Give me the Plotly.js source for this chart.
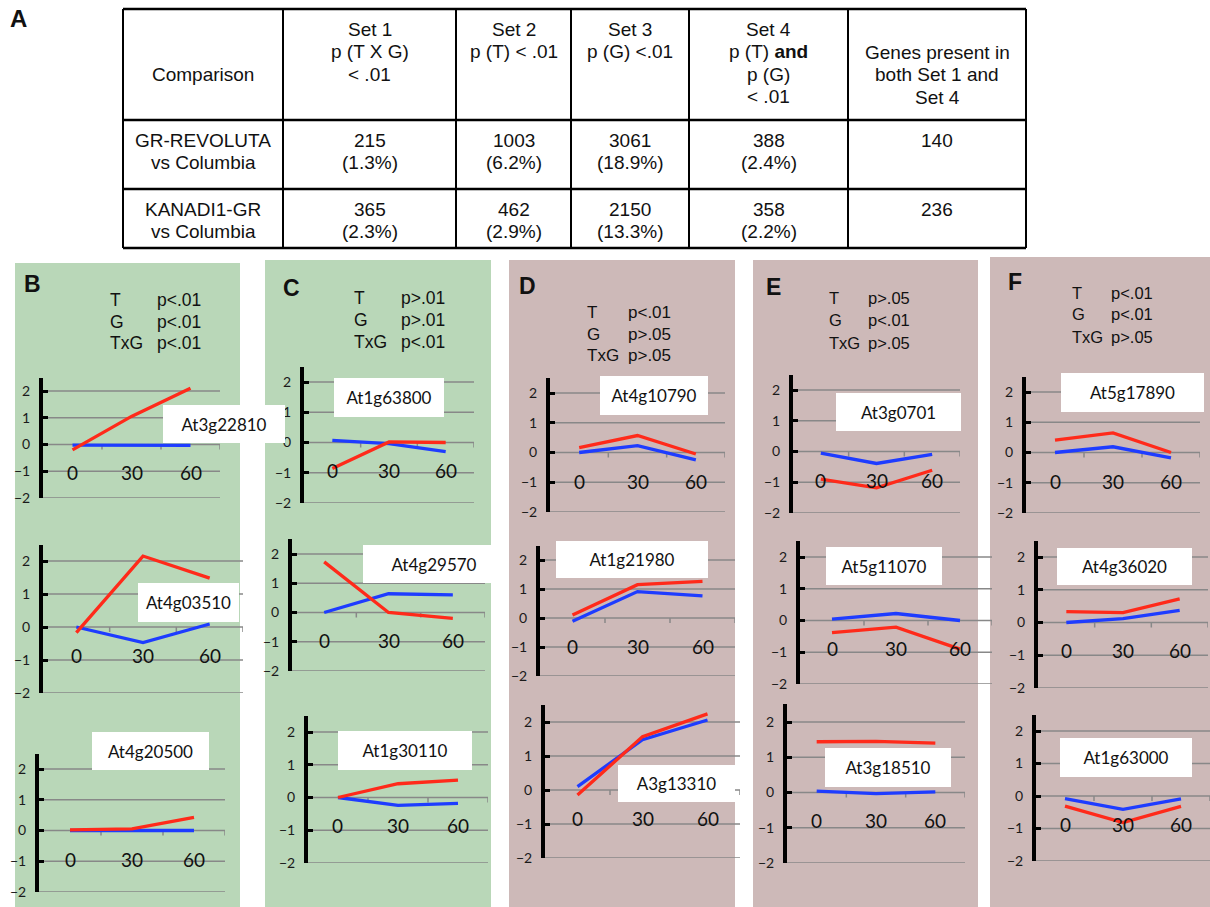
<!DOCTYPE html>
<html><head><meta charset="utf-8">
<script src="https://cdn.plot.ly/plotly-3.0.1.min.js"></script>
<style>html,body{margin:0;padding:0;background:#fff}#chart{width:1210px;height:907px}</style>
</head><body><div id="chart"></div>
<script>
const W = 1210, H = 907;

// ---------------- data ----------------
const timePoints = [0, 30, 60];
const panelLetters = ['B', 'C', 'D', 'E', 'F'];
const factorNames = ['T', 'G', 'TxG'];
const pTime = ['p<.01', 'p>.01', 'p<.01', 'p>.05', 'p<.01'];
const pGenotype = ['p<.01', 'p>.01', 'p>.05', 'p<.01', 'p<.01'];
const pInteraction = ['p<.01', 'p<.01', 'p>.05', 'p>.05', 'p>.05'];
const genes = ['At3g22810', 'At4g03510', 'At4g20500',
               'At1g63800', 'At4g29570', 'At1g30110',
               'At4g10790', 'At1g21980', 'A3g13310',
               'At3g0701', 'At5g11070', 'At3g18510',
               'At5g17890', 'At4g36020', 'At1g63000'];
const redValues = [
  [-0.2, 1.05, 2.1], [-0.17, 2.15, 1.48], [0.02, 0.05, 0.43],
  [-0.86, 0.02, 0.0], [1.73, 0.0, -0.2], [0.0, 0.42, 0.53],
  [0.16, 0.57, -0.05], [0.1, 1.15, 1.26], [-0.15, 1.57, 2.24],
  [-0.9, -1.18, -0.61], [-0.38, -0.21, -0.9], [1.44, 1.45, 1.4],
  [0.41, 0.65, 0.0], [0.33, 0.3, 0.72], [-0.31, -0.82, -0.32]];
const blueValues = [
  [-0.02, -0.03, -0.03], [0.0, -0.47, 0.09], [0.0, 0.0, 0.0],
  [0.07, -0.04, -0.3], [0.0, 0.64, 0.6], [0.0, -0.24, -0.18],
  [0.0, 0.23, -0.25], [-0.11, 0.91, 0.76], [0.1, 1.48, 2.06],
  [-0.05, -0.39, -0.09], [0.04, 0.22, 0.0], [0.04, -0.03, 0.02],
  [0.0, 0.19, -0.18], [0.0, 0.12, 0.37], [-0.08, -0.41, -0.09]];
const yTicks = [-2, -1, 0, 1, 2];

// table (panel A)
const tableHeaders = [['Comparison'], ['Set 1', 'p (T X G)', '< .01'], ['Set 2', 'p (T) < .01'],
  ['Set 3', 'p (G) <.01'], ['Set 4', 'p (T) <b>and</b>', 'p (G)', '< .01'],
  ['Genes present in', 'both Set 1 and', 'Set 4']];
const comparisons = [['GR-REVOLUTA', 'vs Columbia'], ['KANADI1-GR', 'vs Columbia']];
const set1Counts = [215, 365], set1Pct = [1.3, 2.3];
const set2Counts = [1003, 462], set2Pct = [6.2, 2.9];
const set3Counts = [3061, 2150], set3Pct = [18.9, 13.3];
const set4Counts = [388, 358], set4Pct = [2.4, 2.2];
const overlapCounts = [140, 236];

// ---------------- layout geometry (pixels) ----------------
const panelRects = [[15, 240, 263], [265, 491, 260], [509, 735, 260], [753, 978, 260], [990, 1210, 257]];
const panelBg = ['#b9d7b8', '#b9d7b8', '#cdb9b8', '#cdb9b8', '#cdb9b8'];
const letterPos = [[32, 284], [291, 288], [527, 286], [773, 287], [1015, 282]];
const headLabelX = [108, 352, 585, 827, 1070];
const headValueX = [155, 399, 626, 866, 1109];
const headRowsY = [[300, 322, 343], [298, 320, 342], [313, 334, 355], [298, 320, 343], [293, 314, 337]];
const headFont = [17.5, 17.5, 17, 16.5, 16.5];
// [y-axis x, grid right end, y of +2, y of -2]
const chartPx = [
  [43, 220, 391, 498], [43, 243, 561, 693], [39, 225, 769, 892],
  [304, 474, 382, 503], [292, 485, 554, 671], [308, 488, 732, 863],
  [550, 725, 393, 512], [540, 735, 560, 676], [545, 740, 722, 858],
  [793, 960, 390, 513], [800, 992, 557, 684], [787, 965, 722, 863],
  [1026, 1200, 392, 513], [1038, 1208, 557, 688], [1036, 1210, 731, 861]];
// gene label boxes [x0, x1, y0, y1]
const boxPx = [
  [163, 285, 405, 443], [138, 239, 583, 622], [92, 209, 732, 770],
  [334, 444, 378, 417], [363, 505, 545, 583], [338, 472, 731, 770],
  [600, 708, 376, 415], [556, 708, 541, 578], [618, 735, 765, 802],
  [836, 961, 393, 431], [826, 942, 547, 585], [825, 951, 748, 787],
  [1061, 1204, 373, 412], [1057, 1192, 548, 585], [1060, 1192, 738, 777]];
const tableCols = [123, 283, 456, 571, 689, 848, 1026];
const tableRows = [9, 120, 189, 248];
const headerStartY = [74, 29, 29, 29, 29, 52];
const rowStartY = [140, 209];
const lineStep = 22.5;

const px = x => x / W, py = y => 1 - y / H;
const chartFont = 'Lato, "Open Sans", sans-serif';
const tableFont = '"Liberation Sans", Arial, sans-serif';
const gridColor = '#888888';

// x range: half a time step beyond the first and last time points
const step = timePoints[1] - timePoints[0];
const xRange = [timePoints[0] - step / 2, timePoints[timePoints.length - 1] + step / 2];

const traces = [];
const shapes = [];
const annotations = [];
const layout = {
  width: W, height: H, margin: {l: 0, r: 0, t: 0, b: 0},
  paper_bgcolor: '#ffffff', plot_bgcolor: 'rgba(0,0,0,0)',
  showlegend: false, hovermode: false
};

// panel backgrounds, letters, headers
panelLetters.forEach((L, p) => {
  const r = panelRects[p];
  shapes.push({type: 'rect', xref: 'paper', yref: 'paper', layer: 'below',
    x0: px(r[0]), x1: px(r[1]), y0: 0, y1: py(r[2]), fillcolor: panelBg[p], line: {width: 0}});
  annotations.push({xref: 'paper', yref: 'paper', x: px(letterPos[p][0]), y: py(letterPos[p][1]),
    xanchor: 'center', yanchor: 'middle', showarrow: false, text: '<b>' + L + '</b>',
    font: {family: tableFont, size: 23, color: '#111'}});
  const vals = [pTime[p], pGenotype[p], pInteraction[p]];
  factorNames.forEach((f, k) => {
    annotations.push({xref: 'paper', yref: 'paper', x: px(headLabelX[p]), y: py(headRowsY[p][k]),
      xanchor: 'left', yanchor: 'middle', showarrow: false, text: f,
      font: {family: tableFont, size: headFont[p], color: '#111'}});
    annotations.push({xref: 'paper', yref: 'paper', x: px(headValueX[p]), y: py(headRowsY[p][k]),
      xanchor: 'left', yanchor: 'middle', showarrow: false, text: vals[k],
      font: {family: tableFont, size: headFont[p], color: '#111'}});
  });
});

// mini charts
genes.forEach((g, i) => {
  const n = i + 1;
  const xa = n === 1 ? 'x' : 'x' + n, ya = n === 1 ? 'y' : 'y' + n;
  const [axX, gR, y2, yM2] = chartPx[i];
  const ppu = (yM2 - y2) / 4, yTop = y2 - 0.5 * ppu;
  // gridlines (every y tick across the x range) + boundary ticks on the zero line, as one line trace
  const gx = [], gy = [];
  yTicks.forEach(v => { gx.push(xRange[0], xRange[1], null); gy.push(v, v, null); });
  const tickDepth = 5 / ppu;
  for (let k = 1; k <= timePoints.length; k++) {
    const bx = xRange[0] + k * step;
    gx.push(bx, bx, null); gy.push(0, -tickDepth, null);
  }
  traces.push({type: 'scatter', mode: 'lines', x: gx, y: gy, xaxis: xa, yaxis: ya,
    line: {color: gridColor, width: 1.5}, connectgaps: false, cliponaxis: false,
    hoverinfo: 'skip', showlegend: false});
  traces.push({type: 'scatter', mode: 'lines', x: timePoints, y: blueValues[i], xaxis: xa, yaxis: ya,
    line: {color: '#1e3cff', width: 3.3}, hoverinfo: 'skip', showlegend: false});
  traces.push({type: 'scatter', mode: 'lines', x: timePoints, y: redValues[i], xaxis: xa, yaxis: ya,
    line: {color: '#ff2a1a', width: 3.3}, hoverinfo: 'skip', showlegend: false});
  layout['xaxis' + (n === 1 ? '' : n)] = {
    domain: [px(axX), px(gR)], type: 'linear', range: xRange, anchor: ya,
    showline: false, ticks: '', showgrid: false, zeroline: false,
    showticklabels: false, fixedrange: true
  };
  layout['yaxis' + (n === 1 ? '' : n)] = {
    domain: [py(yM2), py(yTop)], range: [-2, 2.5], anchor: xa,
    tickvals: yTicks, ticks: 'inside', ticklen: 5, tickwidth: 3, tickcolor: '#000',
    showline: true, linecolor: '#000', linewidth: 4,
    showgrid: false, zeroline: false,
    tickfont: {family: chartFont, size: 14, color: '#1a1a1a'}, ticklabelstandoff: 6,
    fixedrange: true
  };
  timePoints.forEach(t => {
    annotations.push({xref: xa, yref: ya, x: t, y: 0, yshift: -28.5, xanchor: 'center', yanchor: 'middle',
      showarrow: false, text: String(t), font: {family: chartFont, size: 19, color: '#111'}});
  });
  const b = boxPx[i];
  annotations.push({xref: 'paper', yref: 'paper', x: px((b[0] + b[1]) / 2), y: py((b[2] + b[3]) / 2),
    xanchor: 'center', yanchor: 'middle', showarrow: false, text: g,
    width: b[1] - b[0], height: b[3] - b[2], bgcolor: '#ffffff', borderpad: 0, borderwidth: 0,
    align: 'center', valign: 'middle', font: {family: chartFont, size: 17, color: '#111'}});
});

// ---------------- table (A) ----------------
annotations.push({xref: 'paper', yref: 'paper', x: px(18), y: py(19), xanchor: 'center', yanchor: 'middle',
  showarrow: false, text: '<b>A</b>', font: {family: tableFont, size: 24, color: '#111'}});
tableRows.forEach(y => shapes.push({type: 'line', xref: 'paper', yref: 'paper',
  x0: px(tableCols[0]), x1: px(tableCols[tableCols.length - 1]), y0: py(y), y1: py(y),
  line: {color: '#000', width: 2.5}}));
tableCols.forEach(x => shapes.push({type: 'line', xref: 'paper', yref: 'paper',
  x0: px(x), x1: px(x), y0: py(tableRows[0]), y1: py(tableRows[tableRows.length - 1]),
  line: {color: '#000', width: 2}}));
const colCenter = c => (tableCols[c] + tableCols[c + 1]) / 2;
function cellText(c, lines, y0) {
  lines.forEach((t, k) => annotations.push({xref: 'paper', yref: 'paper', x: px(colCenter(c)),
    y: py(y0 + k * lineStep), xanchor: 'center', yanchor: 'middle', showarrow: false, text: t,
    font: {family: tableFont, size: 19, color: '#111'}}));
}
tableHeaders.forEach((lines, c) => cellText(c, lines, headerStartY[c]));
const counts = [set1Counts, set2Counts, set3Counts, set4Counts];
const pcts = [set1Pct, set2Pct, set3Pct, set4Pct];
comparisons.forEach((comp, r) => {
  cellText(0, comp, rowStartY[r]);
  counts.forEach((arr, s) => cellText(s + 1, [String(arr[r]), '(' + pcts[s][r].toFixed(1) + '%)'], rowStartY[r]));
  cellText(5, [String(overlapCounts[r])], rowStartY[r]);
});

layout.shapes = shapes;
layout.annotations = annotations;
Plotly.newPlot('chart', traces, layout, {staticPlot: true, displayModeBar: false});
</script>
</body></html>
